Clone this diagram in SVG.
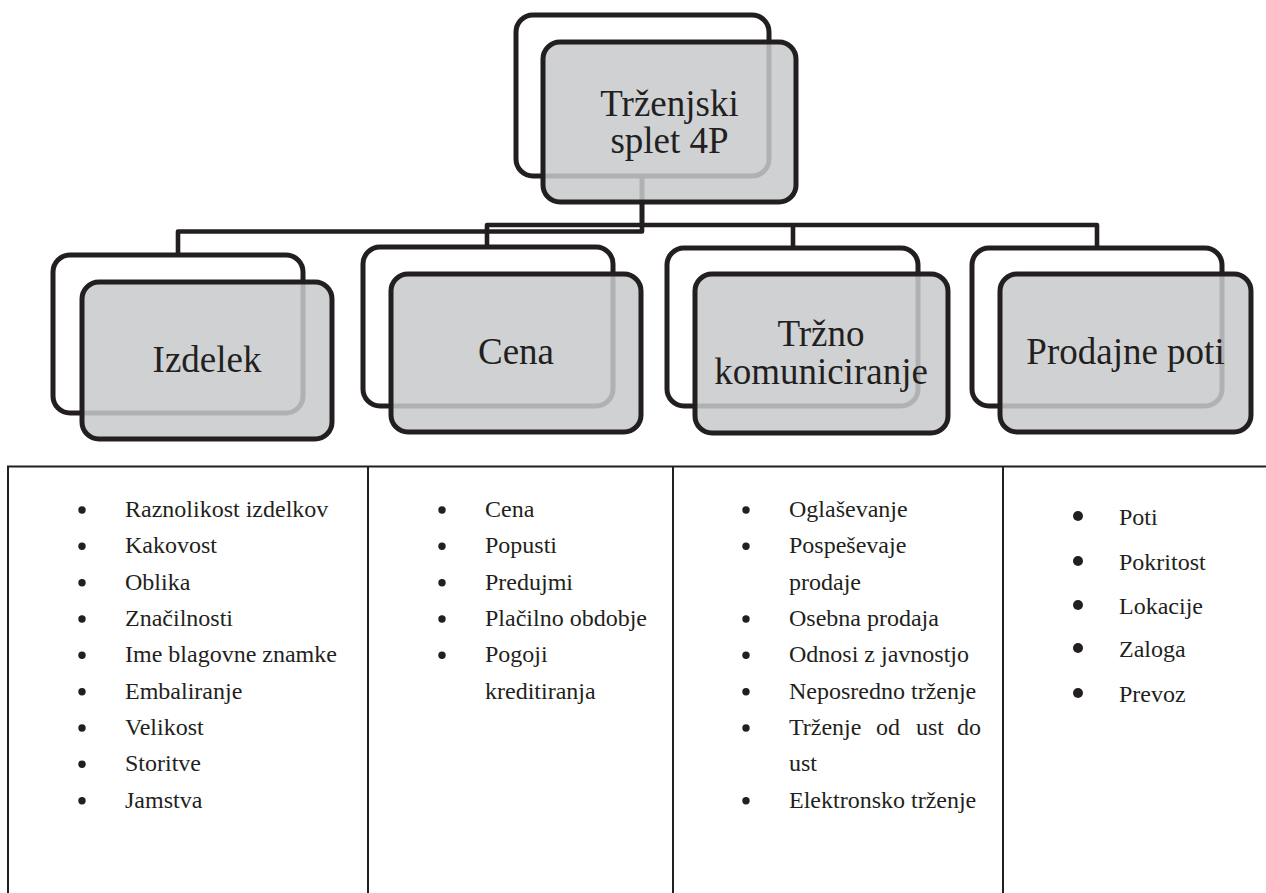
<svg xmlns="http://www.w3.org/2000/svg" width="1266" height="893" viewBox="0 0 1266 893">
<style>
.bk{fill:#ffffff;stroke:#231f20;stroke-width:5}
.fr{fill:#c8cacc;fill-opacity:0.86;stroke:#231f20;stroke-width:5}
.conn{fill:none;stroke:#231f20;stroke-width:4.6;stroke-linejoin:round}
.lbl{font-family:"Liberation Serif","Times New Roman",serif;font-size:37px;fill:#231f20;text-anchor:middle}
.li{font-family:"Liberation Serif","Times New Roman",serif;font-size:24px;fill:#231f20}
.tl{stroke:#231f20;stroke-width:2;fill:none}
.bu{fill:#231f20}
</style>
<rect width="1266" height="893" fill="#ffffff"/>

<g id="connectors">
<path class="conn" d="M642,176 V231.5 H178 V256"/>
<path class="conn" d="M642,176 V225 H487 V248"/>
<path class="conn" d="M642,225 H1097 V249"/>
<path class="conn" d="M793,225 V249"/>
</g>

<g id="node-root">
<rect class="bk" x="516" y="15" width="253" height="161" rx="17"/>
<rect class="fr" x="543" y="42" width="253" height="160" rx="17"/>
<text class="lbl" x="669.5" y="115.5">Trženjski</text>
<text class="lbl" x="669.5" y="152.5">splet 4P</text>
</g>

<g id="node-izdelek">
<rect class="bk" x="53" y="255" width="250" height="158" rx="17"/>
<rect class="fr" x="82" y="282" width="250" height="157" rx="17"/>
<text class="lbl" x="207" y="372">Izdelek</text>
</g>

<g id="node-cena">
<rect class="bk" x="363" y="247" width="250" height="159" rx="17"/>
<rect class="fr" x="391" y="274" width="250" height="158" rx="17"/>
<text class="lbl" x="516" y="364">Cena</text>
</g>

<g id="node-trzno">
<rect class="bk" x="667" y="248" width="251" height="158" rx="17"/>
<rect class="fr" x="695" y="274" width="253" height="159" rx="17"/>
<text class="lbl" x="821" y="346">Tržno</text>
<text class="lbl" x="821" y="384">komuniciranje</text>
</g>

<g id="node-prodajne">
<rect class="bk" x="972" y="248" width="250" height="158" rx="17"/>
<rect class="fr" x="1000" y="274" width="251" height="158" rx="17"/>
<text class="lbl" x="1125.5" y="364">Prodajne poti</text>
</g>

<g id="table">
<line class="tl" x1="7" y1="466.5" x2="1266" y2="466.5"/>
<line class="tl" x1="8" y1="466" x2="8" y2="893"/>
<line class="tl" x1="368" y1="466" x2="368" y2="893"/>
<line class="tl" x1="673" y1="466" x2="673" y2="893"/>
<line class="tl" x1="1003" y1="466" x2="1003" y2="893"/>
</g>

<g id="list-izdelek">
<g class="bu">
<circle cx="82" cy="510" r="3.7"/>
<circle cx="82" cy="546.3" r="3.7"/>
<circle cx="82" cy="582.7" r="3.7"/>
<circle cx="82" cy="619" r="3.7"/>
<circle cx="82" cy="655.3" r="3.7"/>
<circle cx="82" cy="691.7" r="3.7"/>
<circle cx="82" cy="728" r="3.7"/>
<circle cx="82" cy="764.3" r="3.7"/>
<circle cx="82" cy="800.7" r="3.7"/>
</g>
<text class="li" x="125" y="517">Raznolikost izdelkov</text>
<text class="li" x="125" y="553.3">Kakovost</text>
<text class="li" x="125" y="589.7">Oblika</text>
<text class="li" x="125" y="626">Značilnosti</text>
<text class="li" x="125" y="662.3">Ime blagovne znamke</text>
<text class="li" x="125" y="698.7">Embaliranje</text>
<text class="li" x="125" y="735">Velikost</text>
<text class="li" x="125" y="771.3">Storitve</text>
<text class="li" x="125" y="807.7">Jamstva</text>
</g>

<g id="list-cena">
<g class="bu">
<circle cx="442" cy="510" r="3.7"/>
<circle cx="442" cy="546.3" r="3.7"/>
<circle cx="442" cy="582.7" r="3.7"/>
<circle cx="442" cy="619" r="3.7"/>
<circle cx="442" cy="655.3" r="3.7"/>
</g>
<text class="li" x="485" y="517">Cena</text>
<text class="li" x="485" y="553.3">Popusti</text>
<text class="li" x="485" y="589.7">Predujmi</text>
<text class="li" x="485" y="626">Plačilno obdobje</text>
<text class="li" x="485" y="662.3">Pogoji</text>
<text class="li" x="485" y="698.7">kreditiranja</text>
</g>

<g id="list-trzno">
<g class="bu">
<circle cx="746" cy="510" r="3.7"/>
<circle cx="746" cy="546.3" r="3.7"/>
<circle cx="746" cy="619" r="3.7"/>
<circle cx="746" cy="655.3" r="3.7"/>
<circle cx="746" cy="691.7" r="3.7"/>
<circle cx="746" cy="728" r="3.7"/>
<circle cx="746" cy="800.7" r="3.7"/>
</g>
<text class="li" x="789" y="517">Oglaševanje</text>
<text class="li" x="789" y="553.3">Pospeševaje</text>
<text class="li" x="789" y="589.7">prodaje</text>
<text class="li" x="789" y="626">Osebna prodaja</text>
<text class="li" x="789" y="662.3">Odnosi z javnostjo</text>
<text class="li" x="789" y="698.7">Neposredno trženje</text>
<text class="li" y="735"><tspan x="789">Trženje</tspan><tspan x="876">od</tspan><tspan x="916">ust</tspan><tspan x="957">do</tspan></text>
<text class="li" x="789" y="771.3">ust</text>
<text class="li" x="789" y="807.7">Elektronsko trženje</text>
</g>

<g id="list-prodajne">
<g class="bu">
<circle cx="1078" cy="516" r="5"/>
<circle cx="1078" cy="561" r="5"/>
<circle cx="1078" cy="605" r="5"/>
<circle cx="1078" cy="648" r="5"/>
<circle cx="1078" cy="693" r="5"/>
</g>
<text class="li" x="1119" y="525">Poti</text>
<text class="li" x="1119" y="570">Pokritost</text>
<text class="li" x="1119" y="614">Lokacije</text>
<text class="li" x="1119" y="657">Zaloga</text>
<text class="li" x="1119" y="702">Prevoz</text>
</g>
</svg>
